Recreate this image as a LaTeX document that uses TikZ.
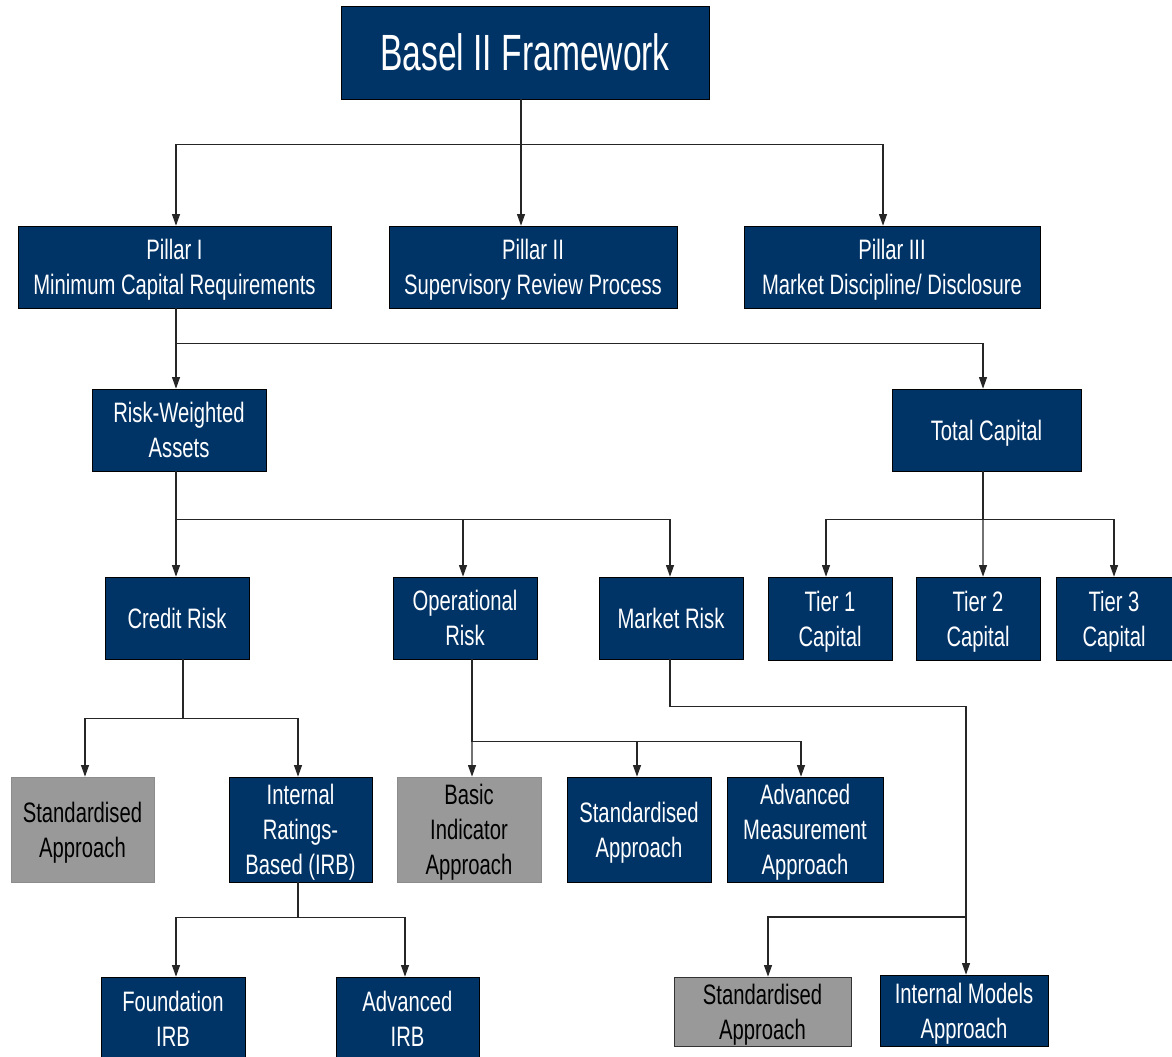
\documentclass[tikz,border=0pt]{standalone}
\usepackage{fontspec}
\setmainfont[FakeStretch=0.72]{Liberation Sans}
\newfontfamily\titlefont[FakeStretch=0.66]{Liberation Sans}
\usetikzlibrary{arrows.meta}
\definecolor{baselblue}{HTML}{003366}
\definecolor{baselgrey}{HTML}{999999}
\tikzset{>={Triangle[length=6.5pt,width=4.5pt]}}
\tikzset{box/.style={draw=black, fill=baselblue, text=white, align=center,
    inner sep=0pt, text depth=0pt, font=\fontsize{16}{19.8}\selectfont}}
\tikzset{greybox/.style={box, fill=baselgrey, text=black, draw=black!45}}
\tikzset{sz/.style 2 args={minimum width=#1*0.02cm, minimum height=#2*0.02cm}}
\tikzset{link/.style={draw=black!85, line width=0.6pt}}

\begin{document}
\begin{tikzpicture}[x=0.02cm, y=-0.02cm]
\useasboundingbox (0,0) rectangle (1172,1057);

\node[box, sz={368}{93}, font=\titlefont\fontsize{29}{34}\selectfont] (basel) at (525,52.5) {Basel II Framework};

\node[box, sz={313}{82}] (p1) at (174.5,267) {Pillar I\\Minimum Capital Requirements};
\node[box, sz={288}{82}] (p2) at (533,267) {Pillar II\\Supervisory Review Process};
\node[box, sz={296}{82}] (p3) at (892,267) {Pillar III\\Market Discipline/ Disclosure};

\node[box, sz={174}{82}] (rwa) at (179,430) {Risk-Weighted\\Assets};
\node[box, sz={189}{82}] (totcap) at (986.5,430) {Total Capital};

\node[box, sz={144}{82}] (credit) at (177,618) {Credit Risk};
\node[box, sz={144}{82}] (oprisk) at (465,618) {Operational\\Risk};
\node[box, sz={144}{82}] (mktrisk) at (671,618) {Market Risk};
\node[box, sz={124}{83}] (tier1) at (830,618.5) {Tier 1\\Capital};
\node[box, sz={124}{83}] (tier2) at (978,618.5) {Tier 2\\Capital};
\node[box, sz={116}{83}] (tier3) at (1114,618.5) {Tier 3\\Capital};

\node[greybox, sz={143}{105}] (stdcr) at (82.5,829.5) {Standardised\\Approach};
\node[box, sz={143}{105}] (irb) at (300.5,829.5) {Internal\\Ratings-\\Based (IRB)};
\node[greybox, sz={144}{105}] (basic) at (469,829.5) {Basic\\Indicator\\Approach};
\node[box, sz={144}{105}] (stdop) at (639,829.5) {Standardised\\Approach};
\node[box, sz={156}{105}] (ama) at (805,829.5) {Advanced\\Measurement\\Approach};

\node[box, sz={144}{84}] (found) at (173,1019) {Foundation\\IRB};
\node[box, sz={143}{84}] (advirb) at (407.5,1019) {Advanced\\IRB};
\node[greybox, draw=black!80, sz={177}{69}] (stdmk) at (762.5,1011.5) {Standardised\\Approach};
\node[box, sz={168}{71}] (ima) at (964,1010.5) {Internal Models\\Approach};

% framework to pillars
\draw[link,->] ([xshift=-0.08cm]basel.south) -- ++(0,45) -| ([xshift=0.03cm]p1.north);
\draw[link,->] ([xshift=-0.08cm]basel.south) -- ([xshift=-0.08cm]basel.south |- p2.north);
\draw[link,->] ([xshift=-0.08cm]basel.south) -- ++(0,45) -| ([xshift=-0.18cm]p3.north);

% pillar I
\draw[link,->] ([xshift=0.03cm]p1.south) -- ++(0,35) -| ([xshift=-0.06cm]rwa.north);
\draw[link,->] ([xshift=0.03cm]p1.south) -- ++(0,35) -| ([xshift=-0.07cm]totcap.north);

\draw[link,->] ([xshift=-0.06cm]rwa.south) -- ++(0,48) -| ([xshift=-0.02cm]credit.north);
\draw[link,->] ([xshift=-0.06cm]rwa.south) -- ++(0,48) -| ([xshift=-0.04cm]oprisk.north);
\draw[link,->] ([xshift=-0.06cm]rwa.south) -- ++(0,48) -| ([xshift=-0.02cm]mktrisk.north);

\draw[link,->] ([xshift=-0.07cm]totcap.south) -- ++(0,48) -| ([xshift=-0.08cm]tier1.north);
\draw[link,->] ([xshift=-0.07cm]totcap.south) -- ([xshift=0.1cm]tier2.north);
\draw[link,->] ([xshift=-0.07cm]totcap.south) -- ++(0,48) -| (tier3.north);

% credit risk
\draw[link,->] ([xshift=0.12cm]credit.south) -- ++(0,59) -| ([xshift=0.05cm]stdcr.north);
\draw[link,->] ([xshift=0.12cm]credit.south) -- ++(0,59) -| ([xshift=-0.05cm]irb.north);

% operational risk
\draw[link,->] ([xshift=0.14cm]oprisk.south) -- ([xshift=0.06cm]basic.north);
\draw[link,->] ([xshift=0.14cm]oprisk.south) -- ++(0,82) -| ([xshift=-0.04cm]stdop.north);
\draw[link,->] ([xshift=0.14cm]oprisk.south) -- ++(0,82) -| ([xshift=-0.08cm]ama.north);

% market risk
\draw[link,->] ([xshift=-0.02cm]mktrisk.south) -- ++(0,47) -| ([xshift=0.04cm]ima.north);
\coordinate (mkjoin) at (966,917);
\draw[link,->] (mkjoin) -| ([xshift=0.11cm]stdmk.north);

% IRB
\draw[link,->] ([xshift=-0.05cm]irb.south) -- ++(0,35) -| ([xshift=0.06cm]found.north);
\draw[link,->] ([xshift=-0.05cm]irb.south) -- ++(0,35) -| ([xshift=-0.05cm]advirb.north);
\end{tikzpicture}
\end{document}
